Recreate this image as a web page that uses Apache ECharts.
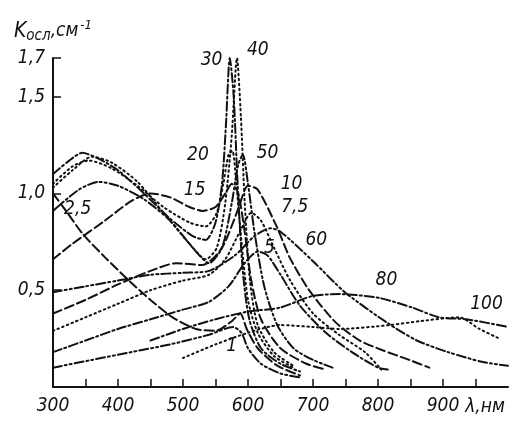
<!DOCTYPE html>
<html>
<head>
<meta charset="utf-8">
<script src="https://cdn.jsdelivr.net/npm/echarts@6/dist/echarts.min.js"></script>
<style>
  html, body { margin: 0; padding: 0; background: #fff; }
  #chart { width: 518px; height: 422px; }
</style>
</head>
<body>
<div id="chart"></div>
<script>
const curve1 = [[300,0.10],[360,0.14],[420,0.18],[480,0.22],[540,0.27],[577,0.31],[590,0.28],[600,0.20],[620,0.12],[650,0.07],[680,0.05]];
const curve2_5 = [[300,1.00],[320,0.91],[346,0.79],[380,0.67],[420,0.54],[450,0.45],[484,0.36],[520,0.30],[550,0.29],[575,0.34],[588,0.38],[598,0.30],[615,0.20],[645,0.11],[680,0.06]];
const curve5 = [[300,0.18],[350,0.24],[400,0.30],[450,0.35],[500,0.40],[540,0.44],[570,0.52],[595,0.64],[615,0.70],[630,0.68],[650,0.58],[680,0.42],[720,0.28],[760,0.18],[800,0.10],[815,0.09]];
const curve7_5 = [[300,0.29],[350,0.36],[400,0.43],[450,0.50],[500,0.55],[540,0.58],[565,0.66],[590,0.82],[605,0.90],[620,0.86],[640,0.72],[665,0.55],[700,0.38],[740,0.27],[780,0.18],[805,0.09]];
const curve10 = [[300,0.38],[350,0.45],[400,0.53],[450,0.60],[490,0.64],[530,0.63],[560,0.72],[585,0.92],[600,1.04],[615,1.02],[644,0.83],[664,0.67],[690,0.52],[710,0.43],[736,0.33],[772,0.24],[807,0.19],[848,0.14],[879,0.10]];
const curve15 = [[300,0.66],[330,0.74],[380,0.86],[420,0.96],[450,1.00],[480,0.98],[510,0.93],[530,0.91],[550,0.93],[565,1.00],[575,1.05],[585,1.00],[595,0.80],[605,0.55],[620,0.35],[650,0.20],[690,0.12],[720,0.09]];
const curve20 = [[300,1.05],[330,1.14],[355,1.17],[390,1.13],[430,1.04],[470,0.93],[510,0.85],[535,0.83],[552,0.90],[562,1.05],[570,1.20],[576,1.22],[582,1.05],[590,0.75],[600,0.45],[615,0.28],[640,0.16],[670,0.10]];
const curve30 = [[300,1.10],[325,1.17],[345,1.21],[370,1.18],[400,1.12],[440,1.00],[480,0.87],[515,0.78],[535,0.76],[550,0.85],[560,1.05],[566,1.35],[572,1.70],[578,1.50],[584,1.05],[592,0.60],[602,0.35],[620,0.20],[650,0.12],[680,0.08]];
const curve40 = [[300,1.03],[330,1.12],[360,1.19],[390,1.16],[430,1.06],[470,0.90],[510,0.74],[535,0.66],[552,0.72],[565,0.95],[575,1.30],[583,1.70],[589,1.40],[595,0.95],[603,0.55],[615,0.32],[640,0.18],[670,0.11]];
const curve50 = [[300,0.91],[340,1.02],[370,1.06],[400,1.04],[440,0.97],[480,0.86],[520,0.70],[540,0.64],[560,0.72],[575,0.95],[585,1.15],[592,1.20],[600,1.05],[610,0.80],[625,0.52],[645,0.32],[670,0.20],[700,0.14],[730,0.10]];
const curve60 = [[300,0.49],[350,0.52],[400,0.55],[450,0.58],[500,0.59],[540,0.60],[580,0.68],[610,0.78],[635,0.82],[651,0.80],[700,0.65],[749,0.49],[815,0.33],[860,0.24],[908,0.18],[960,0.13],[1000,0.11]];
const curve80 = [[450,0.24],[500,0.30],[550,0.35],[600,0.39],[649,0.41],[699,0.47],[741,0.48],[802,0.46],[853,0.41],[894,0.36],[936,0.35],[1000,0.31]];
const curve100 = [[500,0.15],[550,0.22],[600,0.28],[649,0.32],[700,0.31],[741,0.30],[818,0.32],[864,0.34],[925,0.36],[956,0.30],[987,0.25]];

const curveNames = ['1', '2,5', '5', '7,5', '10', '15', '20', '30', '40', '50', '60', '80', '100'];
const curveData = [curve1, curve2_5, curve5, curve7_5, curve10, curve15, curve20, curve30, curve40, curve50, curve60, curve80, curve100];
// где стоит подпись у каждой кривой
const labelAt = [[575,0.21],[338,0.92],[633,0.72],[672,0.93],[667,1.05],[518,1.02],[523,1.20],[544,1.69],[615,1.74],[630,1.21],[705,0.76],[813,0.55],[967,0.43]];

const xLabels = [300, 400, 500, 600, 700, 800, 900];
const xTicks = [350, 400, 450, 500, 550, 600, 650, 700, 750, 800, 850, 900, 950];
const yLabels = [0.5, 1.0, 1.5, 1.7];

const font = "'DejaVu Sans Condensed', 'Liberation Sans Narrow', 'Liberation Sans', sans-serif";
const ink = '#111';

const dashes = {
  dash: [9, 4],
  dot: [1.5, 3.5],
  dashDot: [9, 3, 2, 3],
  dashDotDot: [9, 3, 2, 3, 2, 3]
};
const styleOf = ['dashDotDot', 'dash', 'dashDot', 'dot', 'dash', 'dash', 'dot', 'dashDot', 'dot', 'dashDotDot', 'dashDotDot', 'dashDot', 'dot'];

let series = curveData.map((d, i) => ({
  name: curveNames[i],
  type: 'line',
  data: d,
  smooth: 0.25,
  showSymbol: false,
  silent: true,
  lineStyle: {color: ink, width: 2, type: dashes[styleOf[i]], cap: 'round'}
}));

series.push({
  type: 'scatter',
  symbolSize: 0,
  clip: false,
  silent: true,
  z: 5,
  itemStyle: {opacity: 1, color: ink},
  data: labelAt.map((p, i) => [p[0], p[1], curveNames[i]]),
  label: {
    show: true,
    position: 'inside',
    formatter: (p) => p.value[2],
    color: ink,
    opacity: 1,
    fontSize: 19,
    fontStyle: 'italic',
    fontFamily: font
  }
});

const chart = echarts.init(document.getElementById('chart'));
chart.setOption({
  animation: false,
  backgroundColor: '#fff',
  grid: {left: 53, right: 10, top: 58, bottom: 35},
  xAxis: {
    type: 'value',
    min: 300,
    max: 1000,
    splitLine: {show: false},
    axisLine: {lineStyle: {color: ink, width: 2}},
    axisTick: {inside: true, length: 8, lineStyle: {color: ink, width: 1.5}, customValues: xTicks},
    axisLabel: {
      customValues: xLabels,
      margin: 10,
      color: ink,
      fontSize: 19,
      fontStyle: 'italic',
      fontFamily: font
    },
    name: 'λ,нм',
    nameLocation: 'end',
    nameGap: -44,
    nameTextStyle: {
      color: ink,
      fontSize: 19,
      fontStyle: 'italic',
      fontFamily: font,
      verticalAlign: 'top',
      padding: [11, 0, 0, 0]
    }
  },
  yAxis: {
    type: 'value',
    min: 0,
    max: 1.7,
    splitLine: {show: false},
    axisLine: {lineStyle: {color: ink, width: 2}},
    axisTick: {inside: true, length: 8, lineStyle: {color: ink, width: 1.5}, customValues: yLabels},
    axisLabel: {
      customValues: yLabels,
      margin: 8,
      color: ink,
      fontSize: 19,
      fontStyle: 'italic',
      fontFamily: font,
      formatter: (v) => v.toFixed(1).replace('.', ',')
    },
    name: '{k|K}{s|осл}{n|,см}{p|-1}',
    nameLocation: 'end',
    nameGap: 14,
    nameTextStyle: {
      fontFamily: font,
      fontStyle: 'italic',
      color: ink,
      rich: {
        k: {fontSize: 21, fontStyle: 'italic', fontFamily: font, color: ink},
        s: {fontSize: 15, fontStyle: 'italic', fontFamily: font, color: ink, padding: [10, 0, 0, 0]},
        n: {fontSize: 19, fontStyle: 'italic', fontFamily: font, color: ink},
        p: {fontSize: 13, fontStyle: 'italic', fontFamily: font, color: ink, padding: [0, 0, 12, 2]}
      }
    }
  },
  series: series
});
</script>
</body>
</html>
